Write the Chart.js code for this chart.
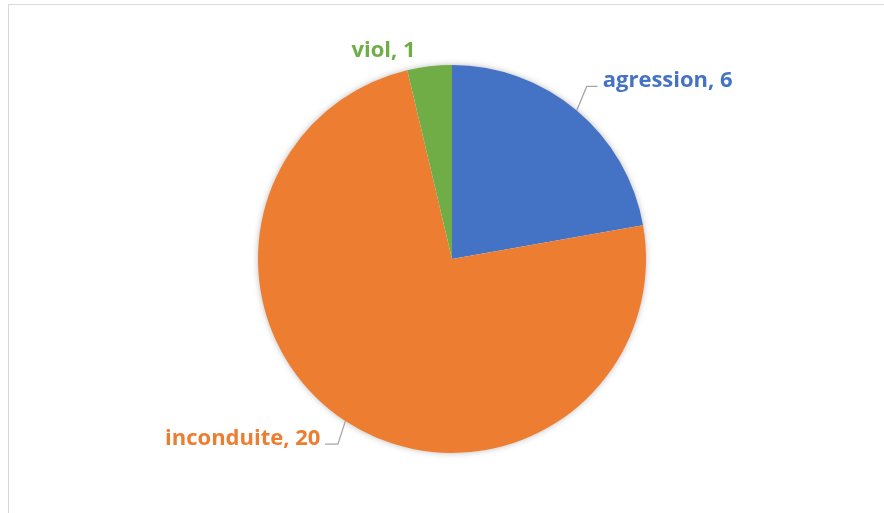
<!DOCTYPE html>
<html lang="fr">
<head>
<meta charset="UTF-8">
<title>Pie</title>
<script src="https://cdn.jsdelivr.net/npm/chart.js"></script>
<style>
    body { margin: 0; background: #fff; overflow: hidden; }
    #wrap { position: relative; width: 884px; height: 513px; }
    #frame { position: absolute; left: 8px; top: 4px; width: 1000px; height: 1000px; border: 1px solid #d9d9d9; }
    canvas { position: absolute; left: 0; top: 0; }
</style>
</head>
<body>
<div id="wrap">
    <div id="frame"></div>
    <canvas id="pie" width="884" height="513"></canvas>
</div>
<script>
    // data
    const categories = ['agression', 'inconduite', 'viol'];
    const counts = [6, 20, 1];
    const colors = ['#4472C4', '#ED7D31', '#70AD47'];

    // label placement relative to the slice's outer edge (elbow / end of leader, text offset)
    const labelStyle = [
        { elbow: [10, -24], end: [21, -24], text: [26, -23], align: 'left' },
        { elbow: [-7.5, 23], end: [-20.5, 23], text: [-25, 24], align: 'right' },
        { elbow: null, text: [-46, -9], align: 'center' }
    ];

    const labelPlugin = {
        id: 'labels',
        beforeDatasetsDraw(chart) {
            // soft shadow under the pie
            const arc = chart.getDatasetMeta(0).data[0];
            const ctx = chart.ctx;
            ctx.save();
            ctx.shadowColor = 'rgba(0,0,0,0.35)';
            ctx.shadowBlur = 7;
            ctx.fillStyle = '#ffffff';
            ctx.beginPath();
            ctx.arc(arc.x, arc.y, arc.outerRadius - 1, 0, Math.PI * 2);
            ctx.fill();
            ctx.restore();
        },
        afterDatasetsDraw(chart) {
            const ctx = chart.ctx;
            const meta = chart.getDatasetMeta(0);
            ctx.save();
            ctx.font = 'bold 22px "Open Sans", sans-serif';
            ctx.textBaseline = 'alphabetic';
            meta.data.forEach((a, i) => {
                const mid = (a.startAngle + a.endAngle) / 2;
                const px = a.x + Math.cos(mid) * a.outerRadius;
                const py = a.y + Math.sin(mid) * a.outerRadius;
                const st = labelStyle[i];
                const txt = categories[i] + ', ' + counts[i];
                if (st.elbow) {
                    ctx.strokeStyle = '#a6a6a6';
                    ctx.lineWidth = 1.3;
                    ctx.beginPath();
                    ctx.moveTo(px, py);
                    ctx.lineTo(px + st.elbow[0], py + st.elbow[1]);
                    ctx.lineTo(px + st.end[0], py + st.end[1]);
                    ctx.stroke();
                }
                ctx.fillStyle = colors[i];
                ctx.textAlign = st.align;
                ctx.fillText(txt, px + st.text[0], py + st.text[1]);
            });
            ctx.restore();
        }
    };

    new Chart(document.getElementById('pie'), {
        type: 'pie',
        data: {
            labels: categories,
            datasets: [{
                data: counts,
                backgroundColor: colors,
                borderWidth: 0
            }]
        },
        options: {
            responsive: false,
            animation: false,
            layout: { padding: { top: 65, bottom: 60, left: 20, right: 0 } },
            plugins: {
                legend: { display: false },
                tooltip: { enabled: false }
            }
        },
        plugins: [labelPlugin]
    });
</script>
</body>
</html>
